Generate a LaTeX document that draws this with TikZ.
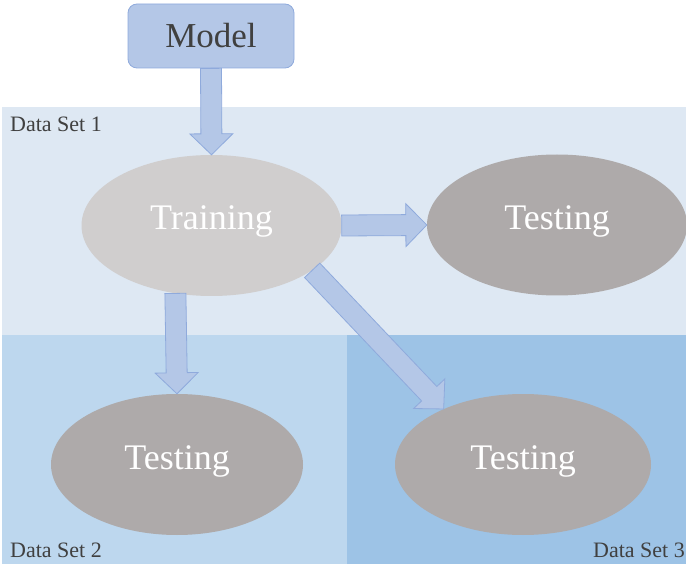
\documentclass[tikz,border=0pt]{standalone}
\usepackage{fontspec}
\setmainfont{Liberation Serif}
\usetikzlibrary{shapes.geometric,calc}
\definecolor{panelA}{HTML}{DEE8F3}
\definecolor{panelB}{HTML}{BDD7EE}
\definecolor{panelC}{HTML}{9DC3E6}
\definecolor{arrfill}{HTML}{B4C7E7}
\definecolor{arrline}{HTML}{8FAADC}
\definecolor{trainfill}{HTML}{D0CECE}
\definecolor{testfill}{HTML}{AEAAAA}
\definecolor{darktext}{HTML}{404040}
\tikzset{
  blockarrow/.style={fill=arrfill,draw=arrline,line width=0.8pt,line join=miter},
  bigoval/.style={ellipse,inner sep=0pt,text=white,font=\fontsize{36}{40}\selectfont,
    text height=24pt,text depth=15pt},
  trainoval/.style={bigoval,fill=trainfill,minimum width=260pt,minimum height=141pt},
  testoval/.style={bigoval,fill=testfill,minimum height=141pt},
  setlabel/.style={inner sep=0pt,text=darktext,font=\fontsize{22}{26}\selectfont},
  modelbox/.style={rectangle,rounded corners=9pt,fill=arrfill,draw=arrline,line width=0.8pt,
    minimum width=166pt,minimum height=64pt,inner sep=0pt,text=darktext,
    font=\fontsize{35}{40}\selectfont,text height=24pt,text depth=0.6pt}
}
% block arrow from #1 to #2
\newcommand\blockarr[2]{%
  \coordinate (bah) at ($(#2)!21pt!(#1)$);
  \draw[blockarrow]
    ($(#1)!10.5pt!90:(#2)$) -- ($(bah)!10.5pt!-90:(#1)$) -- ($(bah)!21.5pt!-90:(#1)$) --
    (#2) -- ($(bah)!21.5pt!90:(#1)$) -- ($(bah)!10.5pt!90:(#1)$) --
    ($(#1)!10.5pt!-90:(#2)$) -- cycle;
}
\begin{document}
\begin{tikzpicture}[x=1pt,y=-1pt]
\useasboundingbox (0,0) rectangle (686,564);
\clip (0,0) rectangle (686,564);
% panels
\fill[panelA] (2,107) rectangle (686,335);
\fill[panelB] (2,335) rectangle (347,564);
\fill[panelC] (347,335) rectangle (686,564);
% labels
\node[setlabel,anchor=base west] (ds1) at (10,132) {Data Set 1};
\node[setlabel,anchor=base west] (ds2) at (10,557) {Data Set 2};
\node[setlabel,anchor=base west] (ds3) at (593,557) {Data Set 3};
% nodes
\node[modelbox] (model) at (211,36) {Model};
\node[trainoval] (train) at (211.5,225.5) {Training};
\node[testoval,minimum width=260pt] (test1) at (557,225) {Testing};
\node[testoval,minimum width=252pt] (test2) at (177,464.5) {Testing};
\node[testoval,minimum width=256pt] (test3) at (523,464.5) {Testing};
% arrows
\blockarr{model.south}{train.north}
\blockarr{train.east}{test1.west}
\blockarr{train.242}{test2.north}
\blockarr{train.336}{test3.145.6}
\end{tikzpicture}
\end{document}
